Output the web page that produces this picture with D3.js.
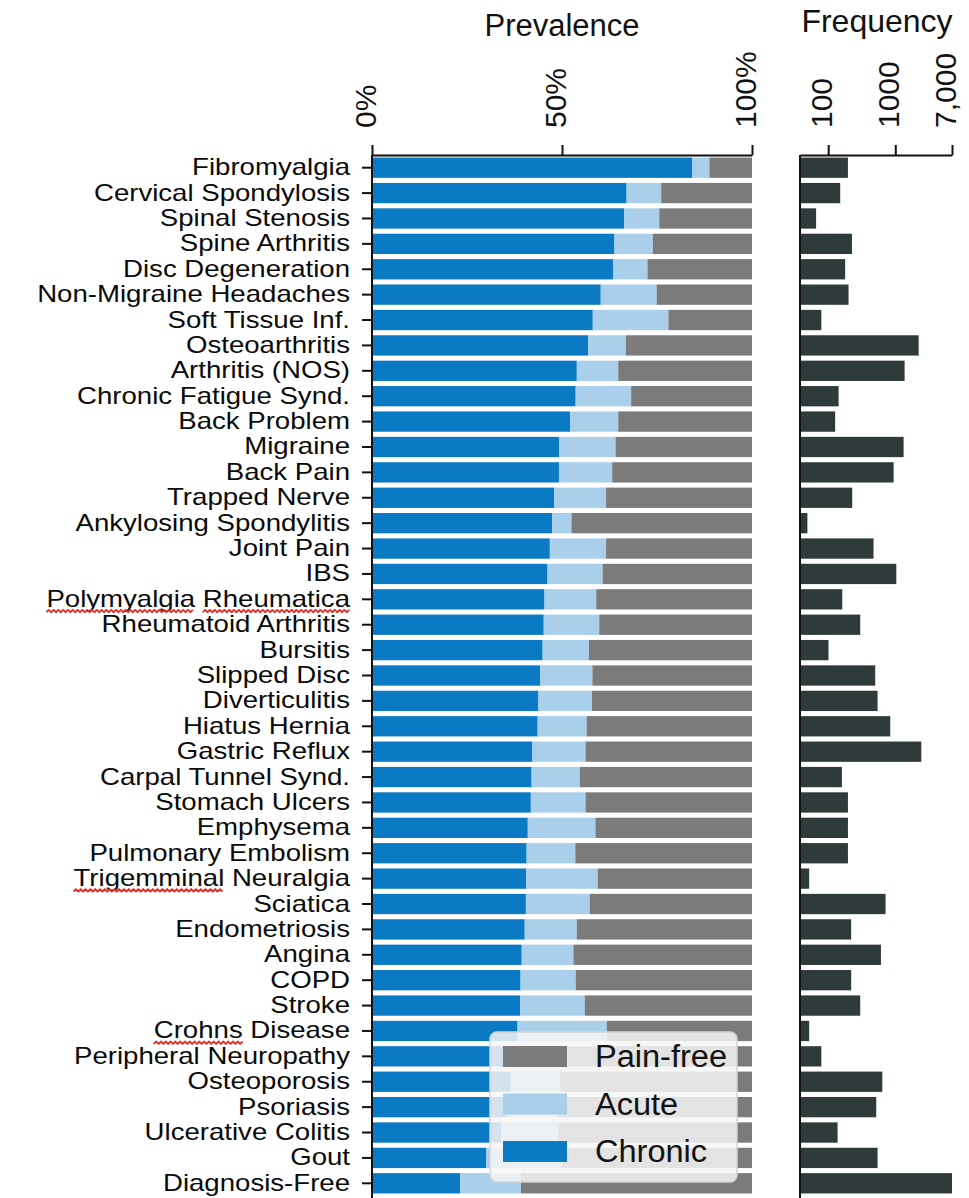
<!DOCTYPE html>
<html><head><meta charset="utf-8">
<script src="https://cdn.jsdelivr.net/npm/d3@7/dist/d3.min.js"></script>
<style>
html,body{margin:0;padding:0;background:#fff;}
svg{display:block;font-family:"Liberation Sans",Arial,Helvetica,sans-serif;}
</style></head>
<body>
<svg id="chart" width="969" height="1198"></svg>
<script>
const categories = ["Fibromyalgia","Cervical Spondylosis","Spinal Stenosis","Spine Arthritis","Disc Degeneration","Non-Migraine Headaches","Soft Tissue Inf.","Osteoarthritis","Arthritis (NOS)","Chronic Fatigue Synd.","Back Problem","Migraine","Back Pain","Trapped Nerve","Ankylosing Spondylitis","Joint Pain","IBS","Polymyalgia Rheumatica","Rheumatoid Arthritis","Bursitis","Slipped Disc","Diverticulitis","Hiatus Hernia","Gastric Reflux","Carpal Tunnel Synd.","Stomach Ulcers","Emphysema","Pulmonary Embolism","Trigemminal Neuralgia","Sciatica","Endometriosis","Angina","COPD","Stroke","Crohns Disease","Peripheral Neuropathy","Osteoporosis","Psoriasis","Ulcerative Colitis","Gout","Diagnosis-Free"];
const chronic = [84.3,67.0,66.4,63.8,63.5,60.2,58.1,56.9,53.9,53.6,52.1,49.3,49.2,48.0,47.4,46.8,46.2,45.4,45.2,44.9,44.3,43.8,43.6,42.2,42.0,41.8,41.0,40.7,40.6,40.5,40.2,39.4,39.1,39.0,38.3,37.5,36.5,35.5,34.0,30.0,23.2];
const acute = [4.5,9.1,9.2,10.1,9.0,14.7,19.9,9.9,10.9,14.6,12.7,14.8,14.0,13.6,5.1,14.8,14.5,13.6,14.6,12.2,13.7,14.1,12.9,14.0,12.7,14.4,17.8,12.8,18.8,16.8,13.7,13.6,14.5,17.0,23.5,14.0,13.0,13.5,15.0,20.0,16.0];
const painFree = [11.2,23.9,24.4,26.1,27.5,25.1,22.0,33.2,35.2,31.8,35.2,35.9,36.8,38.4,47.5,38.4,39.3,41.0,40.2,42.9,42.0,42.1,43.5,43.8,45.3,43.8,41.2,46.5,40.6,42.7,46.1,47.0,46.4,44.0,38.2,48.5,50.5,51.0,51.0,50.0,60.8];
const frequency = [197,151,66,226,179,201,79,2229,1377,143,127,1330,944,228,49,474,1035,162,300,101,502,544,841,2443,160,197,197,197,52,716,220,611,220,300,52,79,640,520,138,544,7000];
const prevTicks = [0,50,100];
const prevTickLabels = ["0%","50%","100%"];
const freqTicks = [100,1000,7000];
const freqTickLabels = ["100","1000","7,000"];
const seriesNames = ["Chronic","Acute","Pain-free"];
const seriesColors = ["#0a7ac4","#a9cfeb","#7b7b7b"];
const legendOrder = ["Pain-free","Acute","Chronic"];
const underlined = {"Polymyalgia Rheumatica":["Polymyalgia","Rheumatica"],"Trigemminal Neuralgia":["Trigemminal"],"Crohns Disease":["Crohns"]};

const svg = d3.select("#chart");
const x = d3.scaleLinear().domain([0,100]).range([372,752]);
const y = d3.scaleBand().domain(categories).range([155,1196]).paddingInner(0.2).paddingOuter(0.1);
const xf = d3.scaleLog().domain([38,7000]).range([800,952]);

const rows = categories.map((c,i)=>({cat:c, vals:[chronic[i],acute[i],painFree[i]], freq:frequency[i]}));
const stackData = rows.map(r=>({cat:r.cat, Chronic:r.vals[0], Acute:r.vals[1], "Pain-free":r.vals[2]}));
const stacked = d3.stack().keys(seriesNames)(stackData);
const color = d3.scaleOrdinal().domain(seriesNames).range(seriesColors);

// prevalence bars
svg.append("g").selectAll("g").data(stacked).join("g")
  .attr("fill", d=>color(d.key))
  .selectAll("rect").data(d=>d).join("rect")
  .attr("x", d=>x(d[0])).attr("width", d=>x(d[1])-x(d[0]))
  .attr("y", d=>y(d.data.cat)).attr("height", y.bandwidth());

// frequency bars
svg.append("g").selectAll("rect").data(rows).join("rect")
  .attr("x", xf.range()[0]).attr("width", d=>xf(d.freq)-xf.range()[0])
  .attr("y", d=>y(d.cat)).attr("height", y.bandwidth())
  .attr("fill","#2f3a3a");

function styleAxis(g){
  g.selectAll("path.domain").attr("stroke","#111").attr("stroke-width",2);
  g.selectAll(".tick line").attr("stroke","#111").attr("stroke-width",2);
}

// top axes
const topAx = svg.append("g").attr("transform","translate(0,155)")
  .call(d3.axisTop(x).tickValues(prevTicks).tickFormat((d,i)=>prevTickLabels[i]).tickSize(10).tickSizeOuter(0));
const topAxF = svg.append("g").attr("transform","translate(0,155)")
  .call(d3.axisTop(xf).tickValues(freqTicks).tickFormat((d,i)=>freqTickLabels[i]).tickSize(10).tickSizeOuter(0));
[topAx, topAxF].forEach(g=>{
  styleAxis(g);
  g.selectAll(".tick text").attr("x",0).attr("y",0).attr("dy",null)
    .attr("transform","translate(3,-27) rotate(-90)")
    .attr("text-anchor","start").attr("font-size",30).attr("fill","#111")
    .attr("font-family","Liberation Sans, Arial, sans-serif");
});

// left axes
const leftAx = svg.append("g").attr("transform","translate(372,0)")
  .call(d3.axisLeft(y).tickSize(10).tickSizeOuter(0).tickFormat(""));
styleAxis(leftAx);
leftAx.select("path.domain").attr("d","M0,155V1198");
const leftAxF = svg.append("g").attr("transform","translate(800,0)")
  .call(d3.axisLeft(y).tickSize(0).tickSizeOuter(0).tickFormat(""));
styleAxis(leftAxF);
leftAxF.select("path.domain").attr("d","M0,155V1198");

// category labels
const labG = svg.append("g");
categories.forEach(c=>{
  const yc = y(c) + y.bandwidth()/2;
  const g = labG.append("g").attr("transform",`translate(350,${yc+7.5}) scale(1.2,1)`);
  const t = g.append("text").attr("text-anchor","end").attr("font-size",23).attr("fill","#0a0a0a").text(c);
  if (underlined[c]) {
    underlined[c].forEach(word=>{
      const idx = c.indexOf(word);
      const node = t.node();
      const x0 = node.getStartPositionOfChar(idx).x;
      const x1 = node.getEndPositionOfChar(idx+word.length-1).x;
      let p = `M${x0},5.5`; let up = true;
      for (let xx = x0+2; xx <= x1; xx += 2) { p += `L${xx},${up?3:5.5}`; up = !up; }
      g.append("path").attr("d",p).attr("fill","none").attr("stroke","#e0302a").attr("stroke-width",1.7)
        .attr("stroke-linejoin","round");
    });
  }
});

// titles
svg.append("text").attr("x",(x.range()[0]+x.range()[1])/2).attr("y",36).attr("text-anchor","middle")
  .attr("font-size",31).attr("fill","#111").text("Prevalence");
svg.append("text").attr("x",877).attr("y",32).attr("text-anchor","middle")
  .attr("font-size",32).attr("fill","#111").text("Frequency");

// legend
const lg = svg.append("g").attr("transform","translate(490,1032)");
lg.append("rect").attr("width",247).attr("height",150).attr("rx",7)
  .attr("fill","#f6f6f6").attr("fill-opacity",0.85).attr("stroke","#d4d4d4").attr("stroke-width",1.5);
legendOrder.forEach((k,i)=>{
  const yy = 14 + i*47.5;
  lg.append("rect").attr("x",13).attr("y",yy).attr("width",64).attr("height",21).attr("fill",color(k));
  lg.append("text").attr("transform",`translate(105,${yy+21}) scale(1.05,1)`)
    .attr("font-size",31).attr("fill","#111").text(k);
});
</script>
</body></html>
